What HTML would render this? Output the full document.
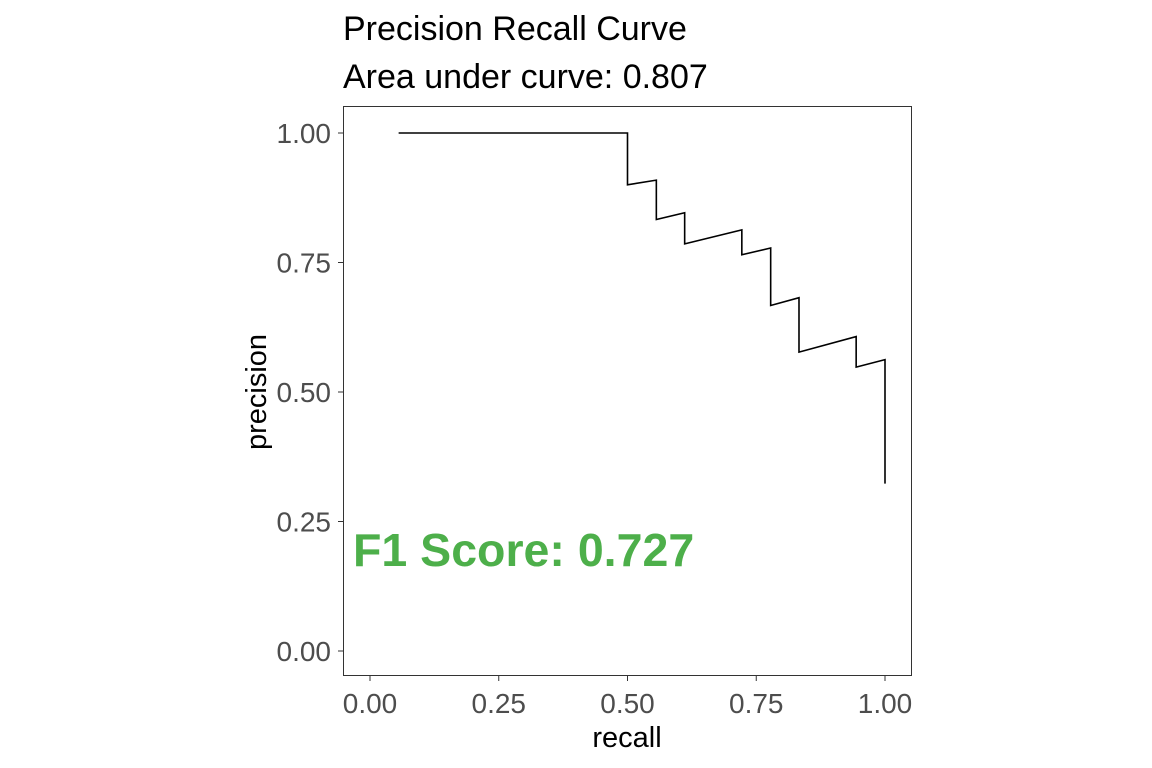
<!DOCTYPE html>
<html><head><meta charset="utf-8"><style>
html,body{margin:0;padding:0;background:#fff;}
svg{display:block;font-family:"Liberation Sans",Arial,sans-serif;}
</style></head><body>
<svg id="chart" width="1152" height="768">
<text x="343" y="40" font-size="34" fill="#000">Precision Recall Curve</text>
<text x="343" y="88" font-size="34" fill="#000">Area under curve: 0.807</text>
<rect x="343.5" y="106.5" width="568" height="569" fill="none" stroke="#333" stroke-width="1"/>
<g id="xticks"></g>
<g id="yticks"></g>
<path id="curve" fill="none" stroke="#000" stroke-width="1.6"/>
<text x="353" y="566" font-size="46.5" font-weight="bold" fill="#4daf4a">F1 Score: 0.727</text>
<text x="627" y="747" font-size="29" text-anchor="middle" fill="#000">recall</text>
<text transform="translate(266,392) rotate(-90)" font-size="29" text-anchor="middle" fill="#000">precision</text>
</svg>
<script>
const recall = [0.0556,0.5,0.5,0.556,0.556,0.611,0.611,0.722,0.722,0.778,0.778,0.833,0.833,0.944,0.944,1.0,1.0];
const precision = [1.0,1.0,0.9,0.909,0.833,0.846,0.786,0.813,0.765,0.778,0.667,0.682,0.577,0.607,0.548,0.5625,0.323];
const xTicks = [0,0.25,0.5,0.75,1.0];
const xTickLabels = ["0.00","0.25","0.50","0.75","1.00"];
const yTicks = [0,0.25,0.5,0.75,1.0];
const yTickLabels = ["0.00","0.25","0.50","0.75","1.00"];
function sx(v){return 370+v*515;}
function sy(v){return 651-v*518;}
const NS="http://www.w3.org/2000/svg";
let d="";
for(let i=0;i<recall.length;i++){d+=(i?"L":"M")+sx(recall[i])+","+sy(precision[i]);}
document.getElementById("curve").setAttribute("d",d);
const xg=document.getElementById("xticks");
xTicks.forEach((v,i)=>{
  const l=document.createElementNS(NS,"line");
  l.setAttribute("x1",sx(v));l.setAttribute("x2",sx(v));l.setAttribute("y1",676);l.setAttribute("y2",681);
  l.setAttribute("stroke","#333");
  
  
  xg.appendChild(l);
  const t=document.createElementNS(NS,"text");
  t.setAttribute("x",sx(v));t.setAttribute("y",713);t.setAttribute("text-anchor","middle");
  t.setAttribute("font-size","28");t.setAttribute("fill","#4d4d4d");t.textContent=xTickLabels[i];
  
  
  xg.appendChild(t);
});
const yg=document.getElementById("yticks");
yTicks.forEach((v,i)=>{
  const l=document.createElementNS(NS,"line");
  l.setAttribute("x1",338);l.setAttribute("x2",343);l.setAttribute("y1",sy(v));l.setAttribute("y2",sy(v));
  l.setAttribute("stroke","#333");
  
  
  yg.appendChild(l);
  const t=document.createElementNS(NS,"text");
  t.setAttribute("x",331);t.setAttribute("y",sy(v)+10);t.setAttribute("text-anchor","end");
  t.setAttribute("font-size","28");t.setAttribute("fill","#4d4d4d");t.textContent=yTickLabels[i];
  
  
  yg.appendChild(t);
});
</script>
</body></html>
